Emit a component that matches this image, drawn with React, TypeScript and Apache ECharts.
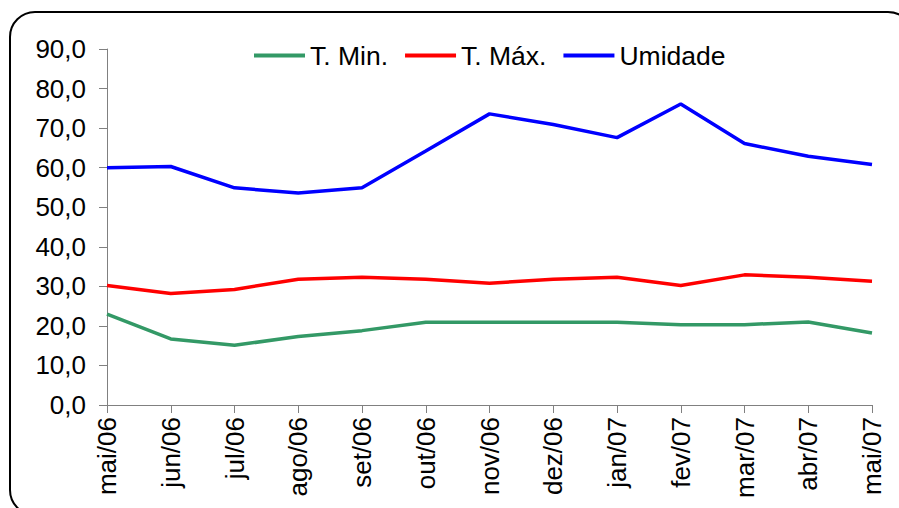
import React, { useEffect, useRef } from "react";
import * as echarts from "echarts";

const categories = ["mai/06", "jun/06", "jul/06", "ago/06", "set/06", "out/06", "nov/06", "dez/06", "jan/07", "fev/07", "mar/07", "abr/07", "mai/07"];
const tMin = [23.0, 16.7, 15.1, 17.3, 18.8, 20.9, 20.9, 20.9, 20.9, 20.3, 20.3, 21.0, 18.2];
const tMax = [30.2, 28.2, 29.2, 31.8, 32.3, 31.8, 30.8, 31.8, 32.3, 30.2, 32.9, 32.3, 31.3];
const umidade = [60.0, 60.3, 54.9, 53.6, 54.9, 64.2, 73.6, 70.9, 67.6, 76.1, 66.1, 62.9, 60.8];
const seriesNames = ["T. Min.", "T. Máx.", "Umidade"];

const FONT = "'Liberation Sans', Arial, sans-serif";
const FS = 26;

export default function App() {
  const ref = useRef<HTMLDivElement>(null);
  useEffect(() => {
    if (!ref.current) return;
    const chart = echarts.init(ref.current, null, { renderer: "svg" });
    const lineSeries = (name: string, data: number[], color: string) => ({
      name,
      type: "line",
      data,
      showSymbol: false,
      symbol: "none",
      lineStyle: { color, width: 3.5 },
      itemStyle: { color },
    });
    chart.setOption({
      animation: false,
      backgroundColor: "#ffffff",
      textStyle: { fontFamily: FONT },
      graphic: [
        {
          type: "rect",
          shape: { x: 10, y: 12, width: 903, height: 503, r: 25 },
          style: { fill: "none", stroke: "#000000", lineWidth: 2 },
          silent: true,
          z: -1,
        },
      ],
      legend: {
        top: 42,
        left: 254,
        padding: 0,
        itemWidth: 51,
        itemHeight: 4,
        itemGap: 17,
        icon: "rect",
        data: seriesNames.map((n) => ({ name: n })),
        textStyle: { fontFamily: FONT, fontSize: 26.5, color: "#000000" },
      },
      grid: { left: 107, top: 49, right: 27, bottom: 103, containLabel: false },
      xAxis: {
        type: "category",
        data: categories,
        boundaryGap: false,
        axisLine: { lineStyle: { color: "#808080", width: 1 } },
        axisTick: { show: true, alignWithLabel: true, length: 8, lineStyle: { color: "#808080" } },
        axisLabel: {
          rotate: 90,
          interval: 0,
          margin: 12,
          fontFamily: FONT,
          fontSize: FS,
          color: "#000000",
        },
        splitLine: { show: false },
      },
      yAxis: {
        type: "value",
        min: 0,
        max: 90,
        interval: 10,
        axisLine: { show: true, lineStyle: { color: "#808080", width: 1 } },
        axisTick: { show: true, length: 8, lineStyle: { color: "#808080" } },
        axisLabel: {
          margin: 21,
          fontFamily: FONT,
          fontSize: FS,
          color: "#000000",
          formatter: (v: number) => v.toFixed(1).replace(".", ","),
        },
        splitLine: { show: false },
      },
      series: [
        lineSeries(seriesNames[0], tMin, "#339966"),
        lineSeries(seriesNames[1], tMax, "#ff0000"),
        lineSeries(seriesNames[2], umidade, "#0000ff"),
      ],
    });
    return () => chart.dispose();
  }, []);
  return <div ref={ref} style={{ width: 899, height: 508, position: "absolute", left: 0, top: 0 }} />;
}
